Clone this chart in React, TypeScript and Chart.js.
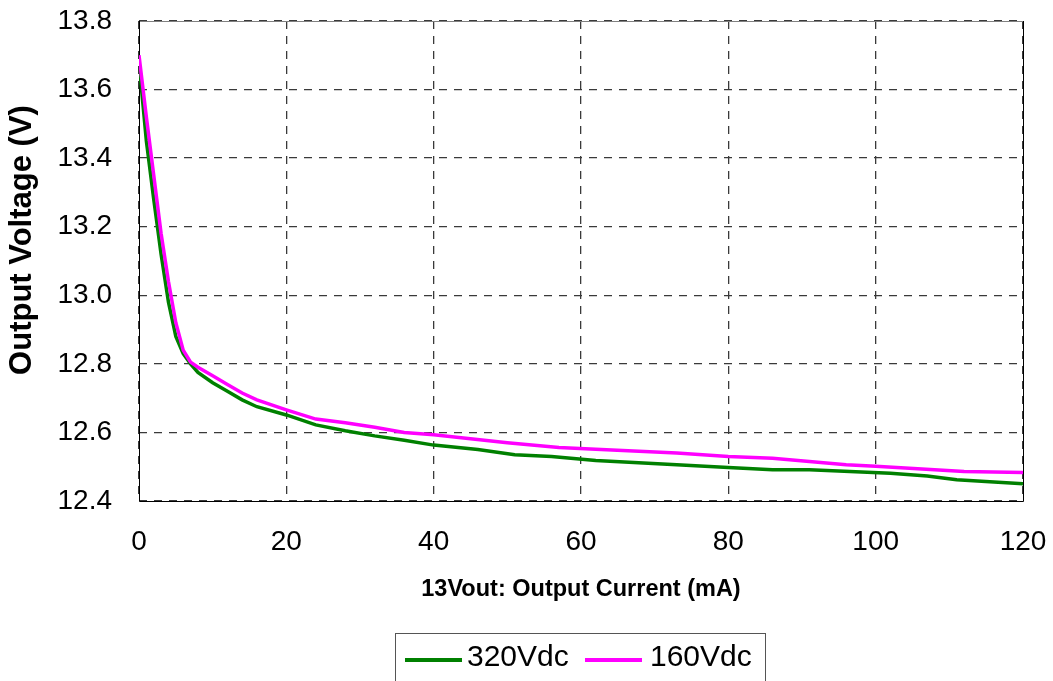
import React, { useEffect, useRef } from "react";
import { Chart, registerables } from "chart.js";

Chart.register(...registerables);

const FONT = "'Liberation Sans', Arial, sans-serif";

const seriesNames = ["320Vdc", "160Vdc"];
const seriesColors = ["#008000", "#FF00FF"];

const current320 = [0, 1, 2, 3, 4, 5, 6, 7, 8, 10, 12, 14, 16, 20, 24, 28, 32, 36, 40, 46, 51, 56, 62, 73, 80, 86, 91, 102, 107, 111, 120];
const voltage320 = [13.68, 13.45, 13.28, 13.12, 12.98, 12.88, 12.83, 12.80, 12.775, 12.745, 12.72, 12.695, 12.675, 12.651, 12.622, 12.605, 12.59, 12.577, 12.563, 12.55, 12.535, 12.53, 12.518, 12.506, 12.498, 12.491, 12.491, 12.481, 12.473, 12.462, 12.45];

const current160 = [0, 1, 2, 3, 4, 5, 6, 7, 8, 10, 12, 14, 16, 20, 24, 28, 32, 36, 40, 50, 57, 62, 73, 80, 86, 96, 100, 112, 120];
const voltage160 = [13.70, 13.52, 13.35, 13.18, 13.04, 12.92, 12.84, 12.805, 12.79, 12.765, 12.74, 12.715, 12.695, 12.666, 12.639, 12.628, 12.615, 12.60, 12.593, 12.57, 12.556, 12.551, 12.54, 12.53, 12.525, 12.506, 12.501, 12.486, 12.483];

const xTicks = [0, 20, 40, 60, 80, 100, 120];
const yTicks = [12.4, 12.6, 12.8, 13.0, 13.2, 13.4, 13.6, 13.8];

const xTitle = "13Vout: Output Current (mA)";
const yTitle = "Output Voltage (V)";

function toPoints(xs: number[], ys: number[]) {
  return xs.map((x, i) => ({ x, y: ys[i] }));
}

const framePlugin = {
  id: "frame",
  beforeDatasetsDraw(chart: any) {
    const { ctx, chartArea: a } = chart;
    ctx.save();
    ctx.lineWidth = 1;
    ctx.strokeStyle = "#808080";
    ctx.beginPath();
    ctx.moveTo(a.left, a.top + 0.5);
    ctx.lineTo(a.right, a.top + 0.5);
    ctx.stroke();
    ctx.strokeStyle = "#000";
    ctx.beginPath();
    ctx.moveTo(a.left + 0.5, a.top);
    ctx.lineTo(a.left + 0.5, a.bottom + 0.5);
    ctx.lineTo(a.right + 0.5, a.bottom + 0.5);
    ctx.lineTo(a.right + 0.5, a.top);
    ctx.stroke();
    ctx.restore();
  },
  afterDraw(chart: any) {
    const { ctx } = chart;
    ctx.save();
    ctx.fillStyle = "#000";
    ctx.font = `bold 23.5px ${FONT}`;
    ctx.textAlign = "center";
    ctx.textBaseline = "middle";
    ctx.fillText(xTitle, 581, 590);
    ctx.translate(22, 240);
    ctx.rotate(-Math.PI / 2);
    ctx.font = `bold 31px ${FONT}`;
    ctx.fillText(yTitle, 0, 0);
    ctx.restore();

    ctx.save();
    ctx.strokeStyle = "#555";
    ctx.lineWidth = 1;
    ctx.strokeRect(395.5, 633.5, 370, 60);
    const items = [
      { x0: 405, x1: 462, tx: 467 },
      { x0: 585, x1: 642, tx: 650 },
    ];
    ctx.font = `30px ${FONT}`;
    ctx.textAlign = "left";
    ctx.textBaseline = "middle";
    items.forEach((it, i) => {
      ctx.strokeStyle = seriesColors[i];
      ctx.lineWidth = 4;
      ctx.beginPath();
      ctx.moveTo(it.x0, 660);
      ctx.lineTo(it.x1, 660);
      ctx.stroke();
      ctx.fillStyle = "#000";
      ctx.fillText(seriesNames[i], it.tx, 658);
    });
    ctx.restore();
  },
};

export default function App() {
  const ref = useRef<HTMLCanvasElement | null>(null);
  useEffect(() => {
    if (!ref.current) return;
    const chart = new Chart(ref.current, {
      type: "scatter",
      data: {
        datasets: [
          {
            label: seriesNames[1],
            data: toPoints(current160, voltage160),
            borderColor: seriesColors[1],
            backgroundColor: seriesColors[1],
            borderWidth: 3.5,
            showLine: true,
            pointRadius: 0,
            tension: 0,
          },
          {
            label: seriesNames[0],
            data: toPoints(current320, voltage320),
            borderColor: seriesColors[0],
            backgroundColor: seriesColors[0],
            borderWidth: 3.5,
            showLine: true,
            pointRadius: 0,
            tension: 0,
          },
        ],
      },
      options: {
        responsive: false,
        animation: false,
        layout: { padding: { top: 21, right: 30, left: 0, bottom: 0 } },
        plugins: {
          legend: { display: false },
          tooltip: { enabled: false },
          title: { display: false },
        },
        scales: {
          x: {
            type: "linear",
            min: 0,
            max: 120,
            afterBuildTicks: (s: any) => {
              s.ticks = xTicks.map((v) => ({ value: v }));
            },
            afterFit: (s: any) => {
              s.height = 180;
              s.paddingLeft = 0;
              s.paddingRight = 0;
            },
            ticks: {
              color: "#000",
              font: { family: FONT, size: 28 },
              padding: 24,
              maxRotation: 0,
              callback: (v: any) => String(v),
            },
            grid: { color: "#3a3a3a", lineWidth: 1.3, drawTicks: false },
            border: { display: false, dash: [8, 7] },
          },
          y: {
            type: "linear",
            min: 12.4,
            max: 13.8,
            afterBuildTicks: (s: any) => {
              s.ticks = yTicks.map((v) => ({ value: v }));
            },
            afterFit: (s: any) => {
              s.width = 139;
              s.paddingTop = 0;
              s.paddingBottom = 0;
            },
            ticks: {
              color: "#000",
              font: { family: FONT, size: 28 },
              padding: 27,
              callback: (v: any) => Number(v).toFixed(1),
            },
            grid: { color: "#3a3a3a", lineWidth: 1.3, drawTicks: false },
            border: { display: false, dash: [8, 7] },
          },
        },
      },
      plugins: [framePlugin],
    });
    return () => chart.destroy();
  }, []);
  return (
    <div style={{ position: "fixed", left: 0, top: 0, width: 1053, height: 681, background: "#fff" }}>
      <canvas ref={ref} width={1053} height={681} style={{ display: "block" }} />
    </div>
  );
}
